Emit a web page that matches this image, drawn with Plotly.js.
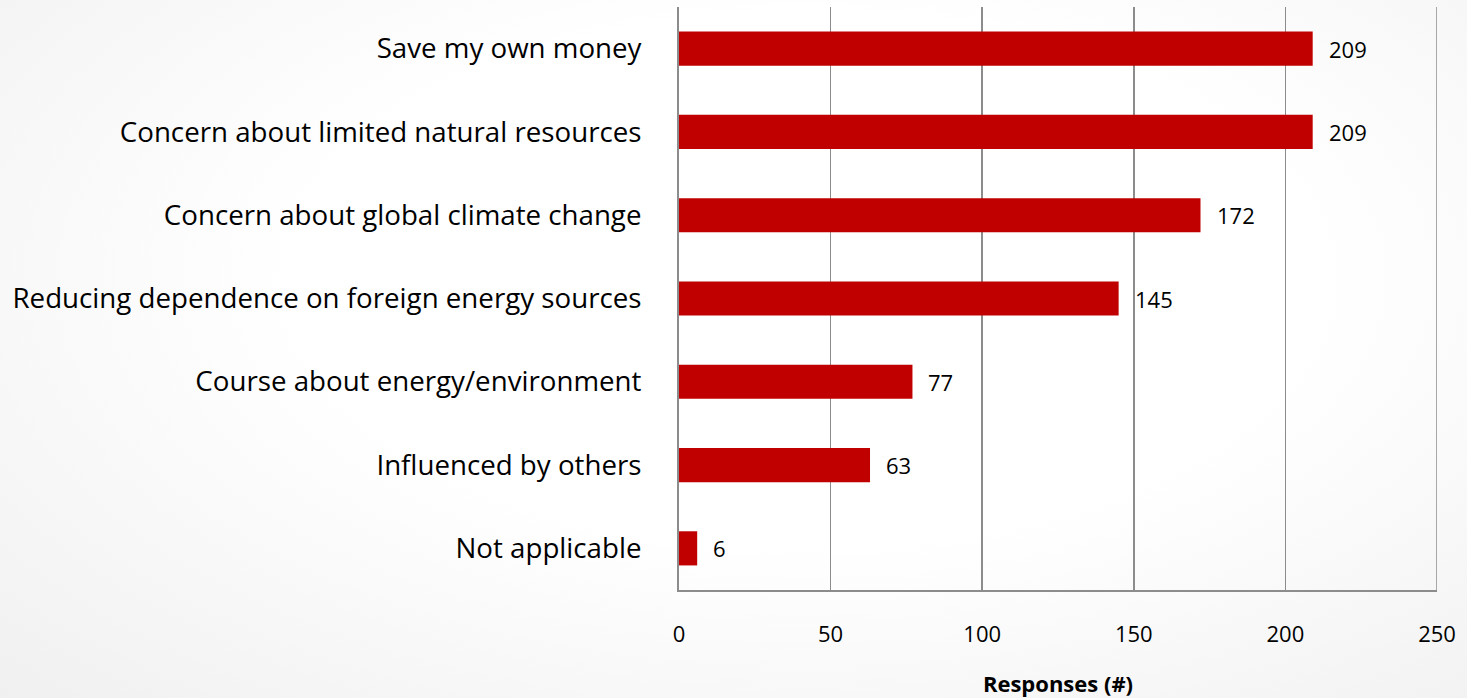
<!DOCTYPE html>
<html>
<head>
<meta charset="utf-8">
<script src="https://cdn.plot.ly/plotly-3.0.1.min.js"></script>
<style>
html,body{margin:0;padding:0;}
body{width:1467px;height:698px;background:radial-gradient(ellipse at 55% 40%, #ffffff 0%, #ffffff 45%, #f0f0f0 100%);}
#chart{width:1467px;height:698px;}
</style>
</head>
<body>
<div id="chart"></div>
<script>
const categories = [
  "Save my own money",
  "Concern about limited natural resources",
  "Concern about global climate change",
  "Reducing dependence on foreign energy sources",
  "Course about energy/environment",
  "Influenced by others",
  "Not applicable"
];
const responses = [209, 209, 172, 145, 77, 63, 6];
const xTicks = [0, 50, 100, 150, 200, 250];
const xTitle = "Responses (#)";

const FONT = "Open Sans, sans-serif";

const trace = {
  type: "bar",
  orientation: "h",
  y: categories,
  x: responses,
  marker: {color: "#c00000", line: {width: 0}},
  hoverinfo: "none"
};

const annotations = responses.map((v, i) => ({
  x: v, y: categories[i], xref: "x", yref: "y",
  text: String(v), showarrow: false,
  xanchor: "left", xshift: 14,
  font: {family: FONT, size: 22, color: "#000"}
}));

const xMax = xTicks[xTicks.length - 1];

const layout = {
  width: 1467, height: 698,
  margin: {l: 679, r: 30, t: 7, b: 108},
  paper_bgcolor: "rgba(0,0,0,0)",
  plot_bgcolor: "rgba(0,0,0,0)",
  showlegend: false,
  bargap: 0.59,
  font: {family: FONT, color: "#000"},
  xaxis: {
    range: [0, xMax],
    tickvals: xTicks,
    ticktext: xTicks.map(String),
    showgrid: true, gridcolor: "#8c8c8c", gridwidth: 1.5,
    showline: true, linecolor: "#8c8c8c", linewidth: 2,
    mirror: false,
    zeroline: false,
    ticks: "", ticklabelstandoff: 24,
    tickfont: {family: FONT, size: 22, color: "#000"},
    title: {text: "<b>" + xTitle + "</b>", font: {family: FONT, size: 22, color: "#000"}, standoff: 30},
    fixedrange: true
  },
  yaxis: {
    autorange: "reversed",
    type: "category",
    showgrid: false,
    showline: true, linecolor: "#8c8c8c", linewidth: 2,
    zeroline: false,
    ticks: "", ticklabelstandoff: 30,
    tickfont: {family: FONT, size: 27.7, color: "#000"},
    fixedrange: true
  },
  shapes: [{
    type: "line", xref: "x", yref: "paper",
    x0: xMax, x1: xMax, y0: 0, y1: 1,
    line: {color: "#8c8c8c", width: 1.5}, layer: "below"
  }],
  annotations: annotations
};

Plotly.newPlot("chart", [trace], layout, {displayModeBar: false, staticPlot: true});
</script>
</body>
</html>
